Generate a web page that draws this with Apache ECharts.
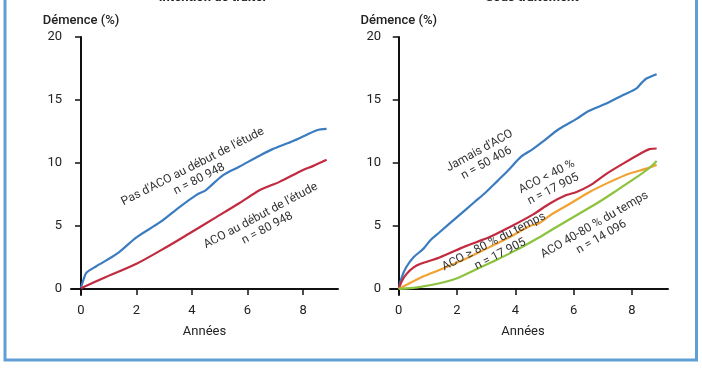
<!DOCTYPE html>
<html><head><meta charset="utf-8">
<script src="https://cdn.jsdelivr.net/npm/echarts@6/dist/echarts.min.js"></script>
<style>html,body{margin:0;padding:0;background:#fff}#c{width:702px;height:370px}</style>
</head><body><div id="c"></div>
<script>
// ---- data ----
const panelTitles = ["Intention de traiter", "Sous traitement"];
const yAxisName = "Démence (%)";
const xAxisName = "Années";
const xTicks = [0, 2, 4, 6, 8];
const yTicks = [0, 5, 10, 15, 20];

const leftNoACO = [[0,0.1],[0.1,0.8],[0.2,1.3],[0.55,1.8],[1.3,2.8],[2.0,4.1],[2.85,5.3],[3.55,6.5],[4.15,7.45],[4.5,7.85],[5.1,9.0],[5.7,9.7],[6.45,10.6],[6.9,11.1],[7.6,11.7],[8.1,12.2],[8.5,12.6],[8.85,12.7]];
const leftACO = [[0,0.05],[0.9,0.95],[2.0,2.0],[3.1,3.35],[3.9,4.4],[4.8,5.6],[5.7,6.8],[6.45,7.85],[7.15,8.5],[8.0,9.45],[8.35,9.75],[8.85,10.25]];

const rightJamais = [[0,0],[0.1,0.9],[0.25,1.7],[0.5,2.5],[0.85,3.2],[1.1,3.9],[1.4,4.5],[2.0,5.7],[2.6,6.9],[3.0,7.7],[3.4,8.6],[3.75,9.4],[4.2,10.5],[4.6,11.1],[5.0,11.8],[5.5,12.7],[6.1,13.5],[6.5,14.1],[7.1,14.7],[7.7,15.4],[8.15,15.9],[8.35,16.4],[8.5,16.7],[8.85,17.05]];
const rightLt40 = [[0,0],[0.1,0.6],[0.27,1.2],[0.5,1.7],[0.75,2.0],[1.4,2.5],[2.3,3.4],[3.1,4.1],[3.8,4.9],[4.6,5.9],[5.2,6.8],[5.75,7.45],[6.1,7.7],[6.55,8.2],[7.1,9.1],[7.7,9.95],[8.3,10.75],[8.6,11.1],[8.85,11.15]];
const rightGe80 = [[0,0],[0.8,0.95],[1.5,1.6],[2.3,2.4],[3.1,3.3],[3.8,4.1],[4.5,5.0],[4.8,5.2],[5.2,5.85],[5.9,6.8],[6.55,7.7],[7.25,8.5],[7.9,9.15],[8.5,9.55],[8.85,9.85]];
const right40to80 = [[0,0],[0.7,0.15],[1.4,0.45],[2.0,0.85],[2.7,1.6],[3.35,2.3],[4.05,3.1],[4.75,4.0],[5.4,4.9],[6.1,5.85],[6.8,6.8],[7.5,7.85],[8.15,8.85],[8.6,9.6],[8.85,10.15]];

const labelTexts = {
  leftNoACO: "Pas d'ACO au début de l'étude\nn = 80 948",
  leftACO: "ACO au début de l'étude\nn = 80 948",
  rightJamais: "Jamais d'ACO\nn = 50 406",
  rightLt40: "ACO < 40 %\nn = 17 905",
  rightGe80: "ACO ≥ 80 % du temps\nn = 17 905",
  right40to80: "ACO 40-80 % du temps\nn = 14 096"
};

// ---- styles ----
const FONT = "Roboto, 'Noto Sans', sans-serif";
const BLUE = "#3b7cc0", RED = "#c22a40", ORANGE = "#f1a232", GREEN = "#8cc33e";
const chart = echarts.init(document.getElementById('c'));

function xAx(idx, min, max, namePad) {
  return {
    type: 'value', gridIndex: idx, min: min, max: max,
    name: xAxisName, nameLocation: 'middle', nameGap: 30,
    nameTextStyle: {fontFamily: FONT, fontSize: 13, color: '#222', padding: namePad},
    axisLine: {show: true, lineStyle: {color: '#111', width: 2}},
    axisTick: {show: true, customValues: xTicks, length: 6, lineStyle: {color: '#111', width: 1.5}},
    axisLabel: {customValues: xTicks, margin: 9, fontFamily: FONT, fontSize: 13, color: '#222'},
    splitLine: {show: false}
  };
}
function yAx(idx) {
  return {
    type: 'value', gridIndex: idx, min: -0.48, max: 20,
    name: yAxisName, nameLocation: 'end', nameGap: 10,
    nameTextStyle: {fontFamily: FONT, fontSize: 13, color: '#222', align: 'center', fontWeight: 500},
    axisLine: {show: true, lineStyle: {color: '#111', width: 2}},
    axisTick: {show: true, customValues: yTicks, length: 6, lineStyle: {color: '#111', width: 1.5}},
    axisLabel: {customValues: yTicks, margin: 9, fontFamily: FONT, fontSize: 13, color: '#222'},
    splitLine: {show: false}
  };
}
function line(name, data, color, xi) {
  return {type: 'line', name: name, data: data, xAxisIndex: xi, yAxisIndex: xi,
    showSymbol: false, smooth: 0.3, lineStyle: {color: color, width: 2.2}, itemStyle: {color: color}, z: 3};
}
function annot(text, x, y, deg) {
  return {type: 'text', x: x, y: y, rotation: deg * Math.PI / 180, z: 10,
    style: {text: text, fill: '#333', font: '12px ' + FONT, align: 'center', verticalAlign: 'middle', lineHeight: 14}};
}

chart.setOption({
  animation: false,
  grid: [
    {left: 71, top: 37, width: 267, height: 258},
    {left: 390, top: 37, width: 278, height: 258}
  ],
  xAxis: [xAx(0, -0.36, 9.26, [0,0,0,0]), xAx(1, -0.30, 9.24, [0,12,0,0])],
  yAxis: [yAx(0), yAx(1)],
  series: [
    line('leftNoACO', leftNoACO, BLUE, 0),
    line('leftACO', leftACO, RED, 0),
    line('rightJamais', rightJamais, BLUE, 1),
    line('rightLt40', rightLt40, RED, 1),
    line('rightGe80', rightGe80, ORANGE, 1),
    line('right40to80', right40to80, GREEN, 1)
  ],
  graphic: [
    {type: 'rect', shape: {x: 5, y: -10, width: 691.5, height: 370}, style: {fill: 'none', stroke: '#5f9fd6', lineWidth: 3}, z: 1},
    {type: 'text', x: 213, y: 4, style: {text: panelTitles[0], fill: '#222', font: 'bold 13px ' + FONT, align: 'center', verticalAlign: 'bottom'}},
    {type: 'text', x: 532, y: 4, style: {text: panelTitles[1], fill: '#222', font: 'bold 13px ' + FONT, align: 'center', verticalAlign: 'bottom'}},
    annot(labelTexts.leftNoACO, 196, 173, 27),
    annot(labelTexts.leftACO, 264, 222, 28),
    annot(labelTexts.rightJamais, 483, 157, 29),
    annot(labelTexts.rightLt40, 550, 183, 27),
    annot(labelTexts.rightGe80, 497, 248, 27),
    annot(labelTexts.right40to80, 598, 231, 30)
  ]
});
</script></body></html>
